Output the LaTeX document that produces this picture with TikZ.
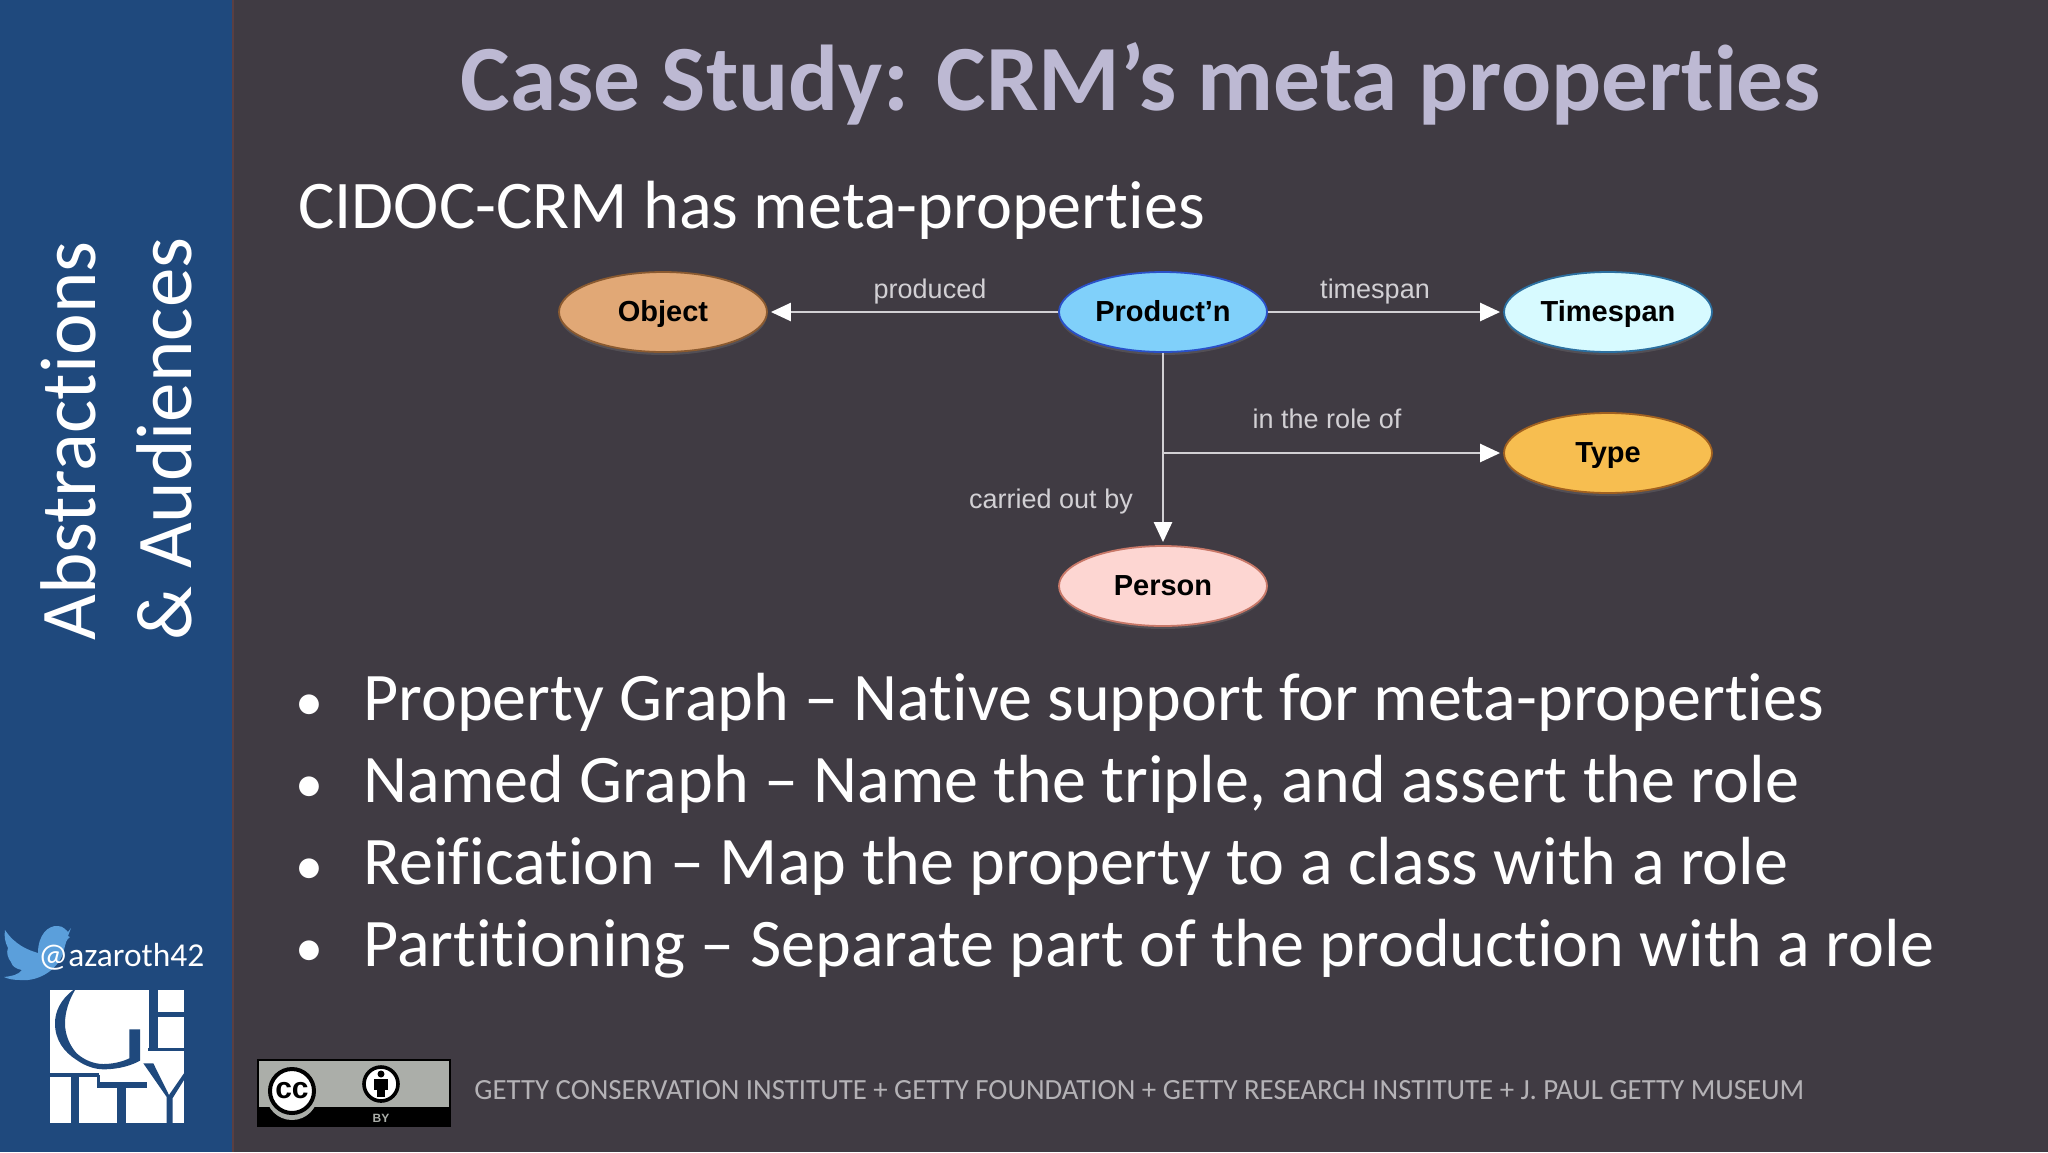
\documentclass[tikz,border=0pt]{standalone}
\usepackage{fontspec}
\setmainfont{Carlito}[Ligatures=NoCommon]
\newfontfamily\helv{Liberation Sans}
\usetikzlibrary{shapes.geometric,arrows.meta,calc,shadows}
\definecolor{bgdark}{HTML}{403B43}
\definecolor{barblue}{HTML}{1F497D}
\definecolor{titlecol}{HTML}{BDB9D3}
\definecolor{linecol}{HTML}{D2D0D4}
\definecolor{birdcol}{HTML}{5B9FDB}
\definecolor{ccgrey}{HTML}{ABAEA9}
\definecolor{footcol}{HTML}{B4B2B6}
\definecolor{objfill}{HTML}{E1A876}
\definecolor{objline}{HTML}{8A5A30}
\definecolor{prodfill}{HTML}{80D0FA}
\definecolor{prodline}{HTML}{2A50C8}
\definecolor{timefill}{HTML}{D7FAFF}
\definecolor{timeline}{HTML}{2B6FA0}
\definecolor{typefill}{HTML}{F7BE50}
\definecolor{typeline}{HTML}{A06020}
\definecolor{persfill}{HTML}{FDD6D2}
\definecolor{persline}{HTML}{C87868}
\definecolor{edgebar}{HTML}{5A3F42}
\tikzset{
  x=0.5pt,y=-0.5pt,
  blob/.style={ellipse,draw=#1,line width=0.9pt,minimum width=104pt,minimum height=40pt,inner sep=0pt,
     text height=12.5pt,text depth=3pt,
     font=\helv\bfseries\fontsize{14.5}{16}\selectfont,text=black,
     drop shadow={opacity=0.3,shadow xshift=0pt,shadow yshift=-1.5pt}},
  edgelabel/.style={font=\helv\fontsize{13.5}{15}\selectfont,text=linecol,inner sep=0pt},
  conn/.style={draw=linecol,line width=1.2pt,-{Triangle[length=10pt,width=9pt,fill=white,color=white]},shorten >=1.5pt},
  bullettext/.style={anchor=base west,font=\fontsize{34.05}{36}\selectfont,text=white,inner sep=0pt},
  bulletmark/.style={anchor=base,font=\fontsize{28}{30}\selectfont,text=white,inner sep=0pt},
  sidetext/.style={rotate=90,anchor=base west,font=\fontsize{39.5}{42}\selectfont,text=white,inner sep=0pt},
}
\begin{document}
\begin{tikzpicture}
\useasboundingbox (0,0) rectangle (2048,1152);
\fill[bgdark] (0,0) rectangle (2048,1152);
\fill[barblue] (0,0) rectangle (232,1152);
\fill[edgebar] (232,0) rectangle (234,1152);

% title and subtitle
\node[anchor=base,font=\bfseries\fontsize{46.7}{50}\selectfont,text=titlecol,inner sep=0pt] (title) at (1141,110) {Case Study: CRM’s meta properties};
\node[anchor=base west,font=\fontsize{34.1}{36}\selectfont,text=white,inner sep=0pt] (sub) at (298,228) {CIDOC-CRM has meta-properties};

% diagram
\node[blob=objline,fill=objfill] (obj) at (663,312) {Object};
\node[blob=prodline,fill=prodfill] (prod) at (1163,312) {Product’n};
\node[blob=timeline,fill=timefill] (time) at (1608,312) {Timespan};
\node[blob=typeline,fill=typefill] (type) at (1608,453) {Type};
\node[blob=persline,fill=persfill] (pers) at (1163,586) {Person};
\coordinate (junction) at (prod.center |- type.west);
\draw[conn] (prod) -- (obj);
\draw[conn] (prod) -- (time);
\draw[conn] (prod) -- (pers);
\draw[conn] (junction) -- (type);
\node[edgelabel] (lprod) at (930,292) {produced};
\node[edgelabel] (ltime) at (1375,292) {timespan};
\node[edgelabel] (lrole) at (1327,419) {in the role of};
\node[edgelabel] (lcarr) at (1051,502) {carried out by};

% bullets
\node[bulletmark] (b1) at (309,720) {•};
\node[bullettext] (t1) at (363,720) {Property Graph – Native support for meta-properties};
\node[bulletmark] (b2) at (309,802) {•};
\node[bullettext] (t2) at (363,802) {Named Graph – Name the triple, and assert the role};
\node[bulletmark] (b3) at (309,884) {•};
\node[bullettext] (t3) at (363,884) {Reification – Map the property to a class with a role};
\node[bulletmark] (b4) at (309,966) {•};
\node[bullettext] (t4) at (363,966) {Partitioning – Separate part of the production with a role};

% side text
\node[sidetext] (s1) at (95,641) {Abstractions};
\node[sidetext] (s2) at (191,641) {\& Audiences};

% twitter bird
\fill[birdcol] (5,930) .. controls (15,945) and (28,950) .. (38,953)
  .. controls (38,935) and (48,925) .. (58,926)
  .. controls (63,926) and (66,930) .. (68,932) -- (71,928) -- (68,936) -- (70,937)
  .. controls (66,940) and (66,942) .. (64,950)
  .. controls (60,968) and (40,982) .. (20,980)
  .. controls (14,980) and (8,979) .. (4,977)
  .. controls (12,976) and (18,975) .. (22,970)
  .. controls (16,969) and (12,966) .. (11,962)
  .. controls (8,958) and (6,953) .. (8,948)
  .. controls (5,942) and (4,936) .. (5,930) -- cycle;
\node[anchor=base west,font=\fontsize{16.7}{19}\selectfont,text=white,inner sep=0pt] (handle) at (38,966) {@azaroth42};

% Getty logo
\fill[white] (50,990) rectangle (184,1123);
\begin{scope}
\clip (50,990) rectangle (184,1123);
\fill[barblue] (73.3,990) .. controls (60,1000) and (55,1012) .. (55,1023.3)
  .. controls (55,1040) and (64,1052) .. (76.7,1060)
  .. controls (85,1066) and (95,1069.3) .. (103.3,1069.3)
  .. controls (120,1069.3) and (132,1065) .. (140,1060.7)
  -- (140,1029.3) -- (129.3,1029.3) -- (129.3,1058.3)
  .. controls (122,1062) and (112,1064) .. (103.3,1064)
  .. controls (94,1064) and (84,1060) .. (76.7,1053.3)
  .. controls (70,1046) and (65,1035) .. (65,1023.3)
  .. controls (65,1012) and (69,1000) .. (75,990) -- cycle;
\fill[barblue] (149.3,990) rectangle (158,1049.3);
\fill[barblue] (148,1048) rectangle (184,1051);
\fill[barblue] (158,1012) rectangle (184,1016.7);
\fill[barblue] (50,1073.3) rectangle (99.3,1077.3);
\fill[barblue] (70.7,1077) rectangle (79.3,1123);
\fill[barblue] (97,1075) rectangle (100,1088);
\fill[barblue] (99,1081.7) rectangle (147,1088.3);
\fill[barblue] (117.3,1088) rectangle (126,1123);
\fill[barblue] (143.3,1063.3) -- (153.3,1063.3) -- (169,1095) -- (184,1073.3) -- (184,1080) -- (172.7,1098)
  -- (172.7,1123) -- (166.7,1123) -- (166.7,1097) -- cycle;
\end{scope}

% CC badge
\fill[ccgrey,draw=black,line width=0.8pt] (258,1060) rectangle (450,1126);
\fill[black] (258,1107) rectangle (450,1127);
\fill[ccgrey] (292,1094) circle (26);
\fill[white,draw=black,line width=2pt] (292,1091) circle (22);
\node[font=\helv\bfseries\fontsize{15}{16}\selectfont,inner sep=0pt] (cc) at (292,1091) {cc};
\fill[white,draw=black,line width=1.8pt] (381,1084) circle (17);
\fill[black] (381,1074) circle (3.5);
\fill[black] (374,1079) rectangle (388,1090);
\fill[black] (377,1089) rectangle (385,1097);
\node[font=\helv\bfseries\fontsize{6}{7}\selectfont,text=ccgrey,inner sep=0pt] (by) at (381,1118) {BY};

% footer
\node[anchor=west,inner sep=0pt,text=footcol] (foot) at (474,1090) {\resizebox{665pt}{9.5pt}{GETTY CONSERVATION INSTITUTE + GETTY FOUNDATION + GETTY RESEARCH INSTITUTE + J. PAUL GETTY MUSEUM}};
\end{tikzpicture}
\end{document}
